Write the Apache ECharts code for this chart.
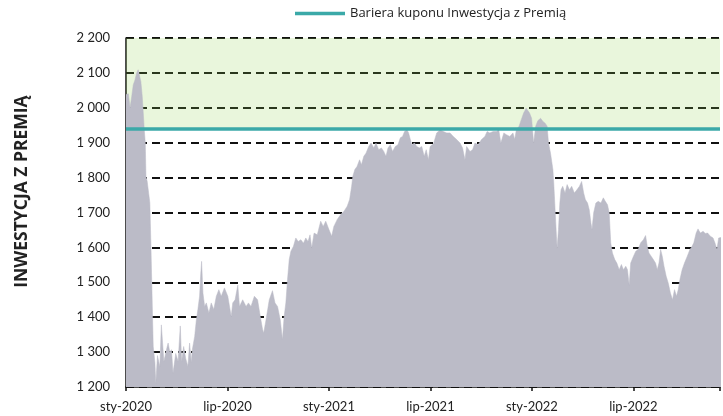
<!DOCTYPE html>
<html>
<head>
<meta charset="utf-8">
<script src="https://cdn.jsdelivr.net/npm/echarts@6/dist/echarts.min.js"></script>
<style>
  html, body { margin: 0; padding: 0; background: #fff; }
  #chart { width: 723px; height: 416px; }
</style>
</head>
<body>
<div id="chart"></div>
<script>
// x positions in months since sty-2020
const months = [0,0.14,0.24,0.34,0.43,0.53,0.63,0.72,0.82,0.88,0.96,1.02,1.08,1.14,1.18,1.25,1.35,1.41,1.47,1.51,
  1.61,1.71,1.76,1.86,2.00,2.09,2.24,2.39,2.49,2.59,2.69,2.78,2.94,3.08,3.21,3.29,3.41,3.53,3.66,3.76,
  3.86,3.92,4.06,4.16,4.25,4.35,4.41,4.47,4.55,4.65,4.75,4.90,5.04,5.19,5.34,5.49,5.63,5.82,6.02,6.22,
  6.31,6.45,6.61,6.71,6.90,7.10,7.24,7.39,7.59,7.78,7.94,8.08,8.14,8.28,8.47,8.66,8.81,8.96,9.12,9.25,
  9.35,9.45,9.55,9.65,9.75,9.90,10.04,10.18,10.34,10.49,10.63,10.76,10.88,10.98,11.12,11.31,11.51,11.66,11.81,12.00,
  12.16,12.29,12.49,12.69,12.88,13.08,13.22,13.34,13.41,13.53,13.66,13.81,13.92,14.06,14.19,14.35,14.49,14.65,14.78,14.94,
  15.10,15.24,15.37,15.49,15.63,15.76,15.92,16.08,16.22,16.35,16.47,16.61,16.71,16.81,16.90,17.06,17.19,17.34,17.49,17.63,
  17.75,17.88,17.98,18.18,18.37,18.57,18.76,18.96,19.16,19.35,19.55,19.75,19.90,20.04,20.14,20.34,20.49,20.63,20.82,21.02,
  21.22,21.35,21.51,21.71,21.90,22.04,22.16,22.25,22.34,22.49,22.69,22.88,22.98,23.08,23.24,23.37,23.51,23.66,23.76,23.86,
  23.98,24.10,24.22,24.35,24.51,24.65,24.78,24.90,24.98,25.10,25.24,25.29,25.37,25.45,25.49,25.57,25.65,25.72,25.82,25.96,
  26.08,26.22,26.35,26.51,26.66,26.81,26.94,27.06,27.16,27.29,27.39,27.49,27.55,27.65,27.78,27.92,28.08,28.22,28.34,28.47,
  28.57,28.66,28.76,28.90,29.02,29.16,29.29,29.41,29.55,29.65,29.75,29.84,30.00,30.14,30.28,30.43,30.59,30.72,30.82,30.92,
  31.06,31.18,31.31,31.41,31.51,31.61,31.71,31.81,31.94,32.06,32.19,32.31,32.43,32.55,32.65,32.75,32.88,33.02,33.18,33.34,
  33.47,33.57,33.71,33.82,33.96,34.12,34.25,34.39,34.55,34.71,34.82,34.94,35.04,35.12,35.29];

const values = [2038,2040,2000,2033,2066,2080,2100,2109,2105,2075,2033,1986,1937,1900,1803,1790,1785,1728,1613,1528,
  1316,1270,1210,1290,1259,1378,1273,1307,1326,1300,1307,1240,1296,1273,1375,1273,1316,1282,1259,1326,
  1270,1307,1345,1393,1422,1460,1517,1560,1469,1431,1441,1412,1441,1422,1460,1479,1460,1484,1460,1402,
  1441,1450,1492,1431,1450,1431,1441,1431,1460,1450,1402,1364,1355,1393,1450,1476,1441,1431,1393,1336,
  1402,1441,1508,1565,1589,1603,1627,1617,1622,1612,1627,1617,1636,1598,1641,1636,1675,1660,1675,1651,
  1632,1660,1680,1694,1703,1718,1737,1775,1804,1823,1832,1851,1837,1861,1870,1889,1899,1885,1899,1880,
  1885,1875,1861,1885,1894,1875,1889,1894,1914,1918,1932,1937,1928,1909,1894,1899,1889,1885,1889,1861,
  1880,1851,1889,1897,1928,1937,1932,1928,1928,1918,1909,1899,1885,1851,1889,1875,1880,1899,1894,1909,
  1918,1932,1928,1932,1932,1937,1899,1894,1928,1923,1918,1928,1909,1937,1947,1966,1985,1999,2004,1985,
  1970,1899,1947,1963,1970,1961,1956,1947,1899,1870,1823,1785,1708,1632,1598,1651,1727,1765,1775,1756,
  1780,1765,1775,1756,1765,1775,1789,1756,1737,1727,1708,1670,1651,1699,1727,1732,1727,1742,1732,1722,
  1699,1613,1584,1565,1555,1536,1551,1536,1546,1536,1492,1555,1574,1589,1594,1613,1622,1634,1603,1584,
  1574,1565,1555,1536,1555,1594,1574,1546,1517,1498,1469,1450,1479,1460,1479,1508,1536,1555,1574,1594,
  1603,1613,1641,1653,1641,1646,1640,1641,1632,1627,1613,1594,1627,1632,1630];

const tickLabels = ['sty-2020', 'lip-2020', 'sty-2021', 'lip-2021', 'sty-2022', 'lip-2022', 'sty-2023'];
const barrierName = 'Bariera kuponu Inwestycja z Premią';
const barrier = 1939;
const yMin = 1200, yMax = 2200;
const xMax = 35.12;

const fmtThousands = v => v >= 1000 ? Math.floor(v / 1000) + ' ' + String(v % 1000).padStart(3, '0') : String(v);

const chart = echarts.init(document.getElementById('chart'));
chart.setOption({
    animation: false,
    backgroundColor: '#fff',
    textStyle: { fontFamily: 'Lato' },
    legend: {
        data: [barrierName],
        icon: 'rect',
        left: 295,
        top: 7,
        padding: 0,
        itemWidth: 50,
        itemHeight: 3.5,
        itemGap: 4,
        textStyle: { fontFamily: 'Open Sans', fontSize: 13, color: '#222' }
    },
    grid: { left: 126, right: 0, top: 38, bottom: 29 },
    xAxis: {
        type: 'value',
        min: 0,
        max: xMax,
        interval: 6,
        axisLine: { show: true, lineStyle: { color: '#111', width: 1.5 } },
        axisTick: { show: true, length: 4, lineStyle: { color: '#111', width: 1.5 } },
        axisLabel: {
            margin: 13,
            fontSize: 13,
            color: '#222',
            formatter: v => (Math.abs(v % 6) < 1e-6 ? (tickLabels[v / 6] || '') : '')
        },
        splitLine: { show: false }
    },
    yAxis: {
        type: 'value',
        min: yMin,
        max: yMax,
        interval: 100,
        name: 'INWESTYCJA Z PREMIĄ',
        nameLocation: 'middle',
        nameRotate: 90,
        nameGap: 95,
        nameTextStyle: { fontFamily: 'Open Sans', fontWeight: 'bold', fontSize: 17.5, color: '#222', padding: [0, 0, 0, 42] },
        axisLine: { show: true, lineStyle: { color: '#111', width: 1.5 } },
        axisTick: { show: false },
        axisLabel: { margin: 16, fontSize: 13, color: '#222', formatter: fmtThousands },
        splitLine: { show: true, lineStyle: { color: '#111', width: 2, type: [8, 5] } }
    },
    series: [
        {
            name: 'Inwestycja z Premią',
            type: 'line',
            data: months.map((m, i) => [m, values[i]]),
            showSymbol: false,
            symbol: 'none',
            lineStyle: { width: 0.5, color: '#bbbbc7' },
            areaStyle: { color: '#bbbbc7', opacity: 1 },
            z: 2
        },
        {
            name: barrierName,
            type: 'line',
            data: [[0, barrier], [xMax, barrier]],
            symbol: 'none',
            color: '#3ba9a8',
            lineStyle: { width: 3.5, color: '#3ba9a8' },
            z: 4,
            markArea: {
                silent: true,
                itemStyle: { color: 'rgba(146,208,80,0.2)' },
                data: [[{ yAxis: barrier }, { yAxis: yMax }]]
            }
        }
    ]
});
</script>
</body>
</html>
